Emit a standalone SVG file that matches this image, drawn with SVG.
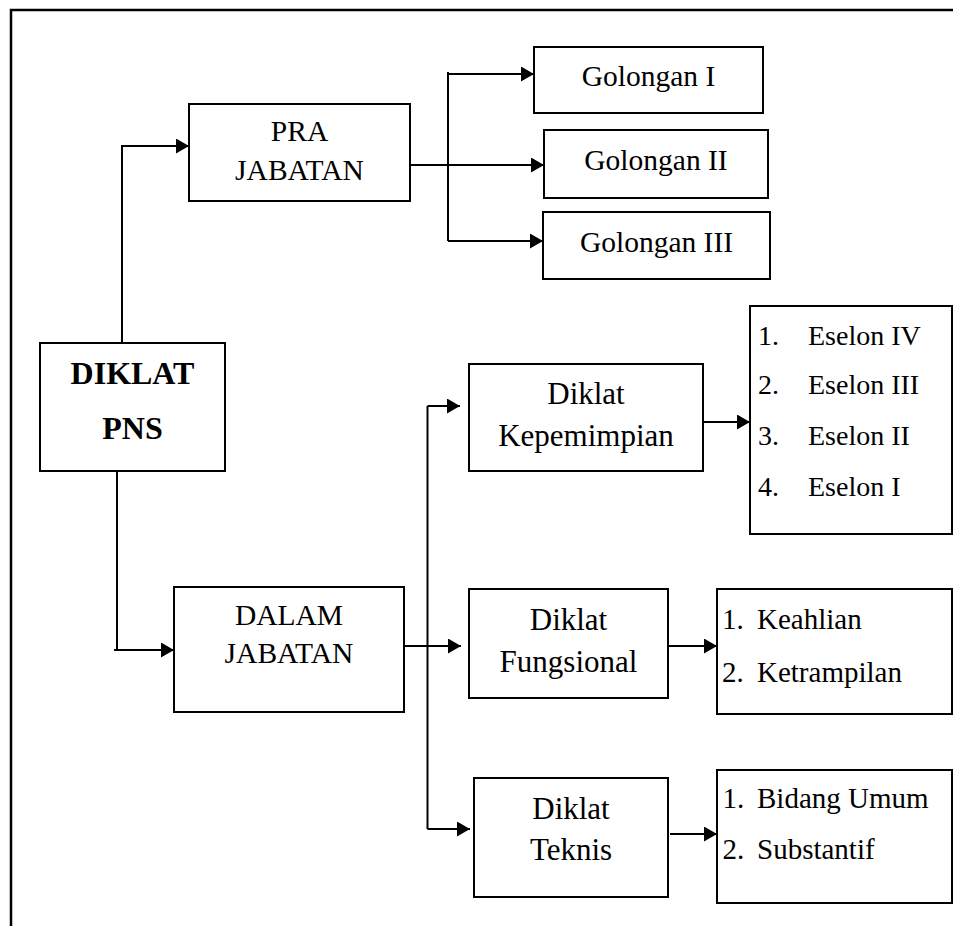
<svg xmlns="http://www.w3.org/2000/svg" width="953" height="926" viewBox="0 0 953 926">
<style>
.box{fill:#fff;stroke:#000;stroke-width:2}
.ln{fill:none;stroke:#000;stroke-width:2}
text{font-family:'Liberation Serif','Times New Roman',Tinos,'DejaVu Serif',serif;fill:#000}
.c{text-anchor:middle}
.f29{font-size:29.5px}
.f31{font-size:31px}
.f28{font-size:28px}
.f29b{font-size:29px}
.b{font-size:32px;font-weight:bold}
</style>
<defs>
<marker id="ah" markerUnits="userSpaceOnUse" viewBox="0 0 13 15" refX="13" refY="7.5" markerWidth="13" markerHeight="15" orient="auto">
<path d="M0,0 L13,7.5 L0,15 z" fill="#000"/>
</marker>
</defs>
<rect width="953" height="926" fill="#fff"/>
<g id="frame">
<path d="M11,926 V10 H953" fill="none" stroke="#000" stroke-width="2.5"/>
</g>
<g id="connectors">
<path class="ln" d="M122,342 V146 H189" marker-end="url(#ah)"/>
<path class="ln" d="M117,471 V650"/>
<path class="ln" d="M114,650 H174" marker-end="url(#ah)"/>
<path class="ln" d="M448,72 V241"/>
<path class="ln" d="M448,74 H534" marker-end="url(#ah)"/>
<path class="ln" d="M410,165 H544" marker-end="url(#ah)"/>
<path class="ln" d="M448,241 H543" marker-end="url(#ah)"/>
<path class="ln" d="M427.5,406 V829"/>
<path class="ln" d="M427.5,406 H460" marker-end="url(#ah)"/>
<path class="ln" d="M404,646 H461" marker-end="url(#ah)"/>
<path class="ln" d="M427.5,829 H470" marker-end="url(#ah)"/>
<path class="ln" d="M703,422 H750" marker-end="url(#ah)"/>
<path class="ln" d="M668,646 H717" marker-end="url(#ah)"/>
<path class="ln" d="M670,834 H717" marker-end="url(#ah)"/>
</g>
<g id="diklat-pns" font-family="Liberation Serif, serif">
<rect class="box" x="40" y="343" width="185" height="128"/>
<text class="c b" x="132.5" y="384">DIKLAT</text>
<text class="c b" x="132.5" y="439">PNS</text>
</g>
<g id="pra-jabatan" font-family="Liberation Serif, serif">
<rect class="box" x="189" y="104" width="221" height="97"/>
<text class="c f29" x="299.5" y="141">PRA</text>
<text class="c f29" x="299.5" y="180">JABATAN</text>
</g>
<g id="golongan-1" font-family="Liberation Serif, serif">
<rect class="box" x="534" y="47" width="229" height="66"/>
<text class="c f29" x="648.5" y="86">Golongan I</text>
</g>
<g id="golongan-2" font-family="Liberation Serif, serif">
<rect class="box" x="544" y="130" width="224" height="68"/>
<text class="c f29" x="656" y="170">Golongan II</text>
</g>
<g id="golongan-3" font-family="Liberation Serif, serif">
<rect class="box" x="543" y="212" width="227" height="67"/>
<text class="c f29" x="656.5" y="251.5">Golongan III</text>
</g>
<g id="dalam-jabatan" font-family="Liberation Serif, serif">
<rect class="box" x="174" y="587" width="230" height="125"/>
<text class="c f29" x="289" y="625">DALAM</text>
<text class="c f29" x="289" y="662.5">JABATAN</text>
</g>
<g id="diklat-kepemimpian" font-family="Liberation Serif, serif">
<rect class="box" x="469" y="364" width="234" height="107"/>
<text class="c f31" x="586" y="403.5">Diklat</text>
<text class="c f31" x="586" y="446">Kepemimpian</text>
</g>
<g id="eselon" font-family="Liberation Serif, serif">
<rect class="box" x="750" y="306" width="202" height="228"/>
<text class="f28" x="758" y="344.5">1. <tspan x="808">Eselon IV</tspan></text>
<text class="f28" x="758" y="393.5">2. <tspan x="808">Eselon III</tspan></text>
<text class="f28" x="758" y="445">3. <tspan x="808">Eselon II</tspan></text>
<text class="f28" x="758" y="496">4. <tspan x="808">Eselon I</tspan></text>
</g>
<g id="diklat-fungsional" font-family="Liberation Serif, serif">
<rect class="box" x="469" y="589" width="199" height="109"/>
<text class="c f31" x="568.5" y="630">Diklat</text>
<text class="c f31" x="568.5" y="671.5">Fungsional</text>
</g>
<g id="fungsional-list" font-family="Liberation Serif, serif">
<rect class="box" x="717" y="589" width="235" height="125"/>
<text class="f29b" x="722" y="629">1. <tspan x="757">Keahlian</tspan></text>
<text class="f29b" x="722" y="681.5">2. <tspan x="757">Ketrampilan</tspan></text>
</g>
<g id="diklat-teknis" font-family="Liberation Serif, serif">
<rect class="box" x="474" y="778" width="194" height="119"/>
<text class="c f31" x="571" y="819">Diklat</text>
<text class="c f31" x="571" y="860">Teknis</text>
</g>
<g id="teknis-list" font-family="Liberation Serif, serif">
<rect class="box" x="717" y="770" width="235" height="133"/>
<text class="f29b" x="722.5" y="807.5">1. <tspan x="757">Bidang Umum</tspan></text>
<text class="f29b" x="722.5" y="858.5">2. <tspan x="757">Substantif</tspan></text>
</g>
</svg>
